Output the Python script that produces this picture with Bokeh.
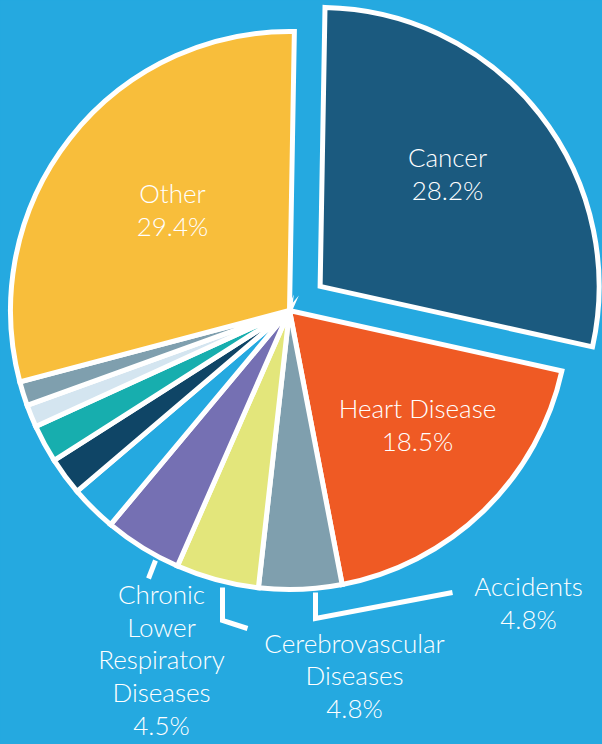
import numpy as np
from bokeh.plotting import figure
from bokeh.models import Range1d, ColumnDataSource
from bokeh.core.properties import value
from bokeh.embed import file_html
from bokeh.resources import INLINE

# ---- data ----
causes = ["Cancer", "Heart Disease", "Accidents", "Cerebrovascular Diseases",
          "Chronic Lower Respiratory Diseases", "Other cause A", "Other cause B",
          "Other cause C", "Other cause D", "Other cause E", "Other"]
shares = [28.2, 18.5, 4.8, 4.8, 4.5, 2.7, 2.2, 2.2, 1.3, 1.4, 29.4]
colors = ["#1b5a7f", "#ef5a24", "#7f9fae", "#e3e67b", "#7570b3", "#25a9e0",
          "#0f4566", "#17aeae", "#d4e5f0", "#7f9fae", "#f8be3b"]
explode = [1, 0, 0, 0, 0, 0, 0, 0, 0, 0, 0]

label_text = ["Cancer\n28.2%", "Heart Disease\n18.5%", "Accidents\n4.8%",
              "Cerebrovascular\nDiseases\n4.8%",
              "Chronic\nLower\nRespiratory\nDiseases\n4.5%", "Other\n29.4%"]

# ---- layout (image pixel coords, y down) ----
BG = "#25a9e0"
W, H = 602, 744
CX, CY, R = 289, 310, 279
START_DEG = 89.0
EXPLODE_PX = 39

label_pos = [(447, 173), (417, 424), (528, 602), (354, 675), (161, 659), (172, 209)]
leaders = [
    [(315, 592), (315, 618), (452, 592)],
    [(222, 587), (222, 620), (247, 628)],
    [(155, 560), (148, 578)],
]

def Y(v):
    return H - v

vals = np.array(shares, dtype=float)
cum = np.concatenate([[0], np.cumsum(vals)]) / vals.sum()
ang_start = np.deg2rad(START_DEG - cum[1:] * 360)   # anticlock start
ang_end = np.deg2rad(START_DEG - cum[:-1] * 360)
mid = (ang_start + ang_end) / 2
xs = CX + np.array(explode) * EXPLODE_PX * np.cos(mid)
ys = Y(CY) + np.array(explode) * EXPLODE_PX * np.sin(mid)

src = ColumnDataSource(dict(x=xs, y=ys, s=ang_start, e=ang_end, color=colors,
                            cause=causes, share=shares))

p = figure(width=W, height=H, output_backend="svg", toolbar_location=None,
           x_range=Range1d(0, W), y_range=Range1d(0, H),
           min_border=0, background_fill_color=BG, border_fill_color=BG,
           outline_line_color=None)
p.axis.visible = False
p.grid.visible = False

p.wedge(x="x", y="y", radius=R, start_angle="s", end_angle="e",
        direction="anticlock", fill_color="color", line_color="white",
        line_width=5, line_join="miter", source=src)

p.multi_line(xs=[[pt[0] for pt in l] for l in leaders],
             ys=[[Y(pt[1]) for pt in l] for l in leaders],
             line_color="white", line_width=5, line_join="miter")

p.text(x=[lp[0] for lp in label_pos], y=[Y(lp[1]) for lp in label_pos],
       text=label_text, text_color="white", text_font=value("Lato Light, Lato"),
       text_font_size="26px", text_align="center", text_baseline="middle",
       text_line_height=1.03)

html = file_html(p, INLINE)
html = html.replace("</head>", "<style>body{background-color:%s;}</style></head>" % BG, 1)
open("out.html", "w").write(html)
